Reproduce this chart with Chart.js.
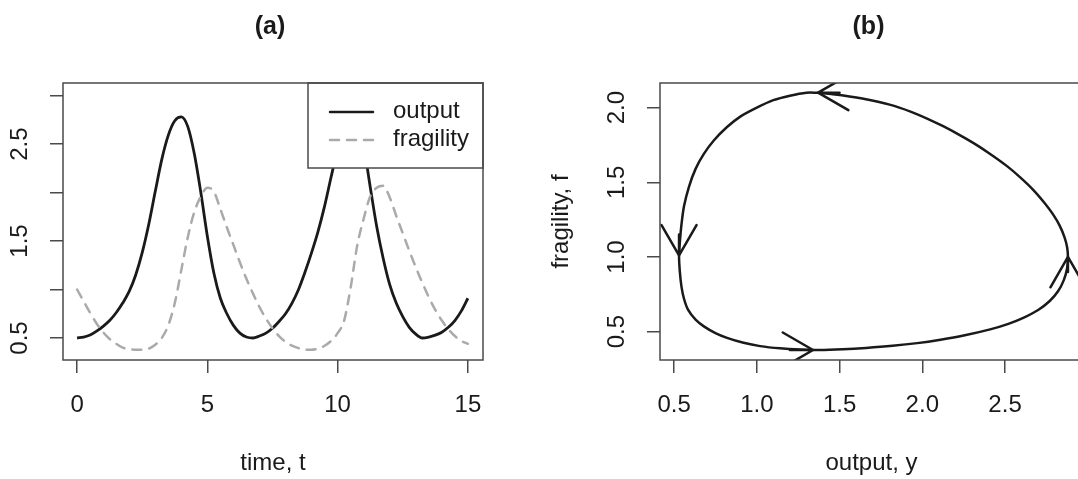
<!DOCTYPE html>
<html>
<head>
<meta charset="utf-8">
<script src="https://cdn.jsdelivr.net/npm/chart.js@4.4.1/dist/chart.umd.min.js"></script>
<style>
  html, body { margin: 0; padding: 0; background: #fff; overflow: hidden; width: 1078px; height: 479px; }
  #wrapA { position: absolute; left: 0; top: 0; width: 540px; height: 479px; }
  #wrapB { position: absolute; left: 540px; top: 0; width: 560px; height: 479px; }
</style>
</head>
<body>
<div id="wrapA"><canvas id="chartA" width="540" height="479"></canvas></div>
<div id="wrapB"><canvas id="chartB" width="560" height="479"></canvas></div>
<script>
// panel (a): output and fragility over time
const timeT = [0, 0.25, 0.5, 0.75, 1, 1.25, 1.5, 1.75, 2, 2.25, 2.5, 2.75, 3, 3.25, 3.5, 3.75,
  4, 4.25, 4.5, 4.75, 5, 5.25, 5.5, 5.75, 6, 6.25, 6.5, 6.75, 7, 7.25, 7.5, 7.75,
  8, 8.25, 8.5, 8.75, 9, 9.25, 9.5, 9.75, 10, 10.25, 10.5, 10.75, 11, 11.25, 11.5, 11.75,
  12, 12.25, 12.5, 12.75, 13, 13.25, 13.5, 13.75, 14, 14.25, 14.5, 14.75, 15];
const outputY = [0.50, 0.51, 0.53, 0.57, 0.62, 0.68, 0.76, 0.86, 0.98, 1.15, 1.38, 1.67, 2.01, 2.34, 2.59, 2.74,
  2.78, 2.68, 2.40, 2.00, 1.55, 1.17, 0.91, 0.75, 0.63, 0.55, 0.51, 0.50, 0.52, 0.55, 0.60, 0.67,
  0.75, 0.86, 1.00, 1.18, 1.38, 1.60, 1.86, 2.16, 2.45, 2.68, 2.78, 2.72, 2.48, 2.06, 1.65, 1.32,
  1.05, 0.86, 0.72, 0.61, 0.54, 0.50, 0.51, 0.53, 0.56, 0.61, 0.68, 0.78, 0.91];
const fragilityF = [1.00, 0.88, 0.76, 0.65, 0.56, 0.49, 0.44, 0.40, 0.385, 0.378, 0.38, 0.39, 0.43, 0.50, 0.63, 0.86,
  1.20, 1.54, 1.80, 1.96, 2.05, 2.01, 1.83, 1.64, 1.46, 1.28, 1.11, 0.96, 0.82, 0.70, 0.60, 0.52,
  0.46, 0.42, 0.395, 0.38, 0.378, 0.39, 0.42, 0.47, 0.55, 0.68, 1.02, 1.45, 1.73, 1.96, 2.05, 2.07,
  1.95, 1.76, 1.58, 1.40, 1.23, 1.07, 0.92, 0.79, 0.68, 0.59, 0.52, 0.47, 0.44];
const xTicksA = [0, 5, 10, 15];
const xLabelsA = ['0', '5', '10', '15'];
const yTicksA = [0.5, 1, 1.5, 2, 2.5, 3];
const yLabelsA = ['0.5', '', '1.5', '', '2.5', ''];

// panel (b): fragility against output, one loop (anticlockwise from the top)
const loopY = [1.37, 1.30, 1.20, 1.10, 1.00, 0.90, 0.82, 0.74, 0.68, 0.63, 0.59, 0.56, 0.545, 0.535, 0.53,
  0.535, 0.545, 0.56, 0.585, 0.63, 0.68, 0.75, 0.82, 0.92, 1.02, 1.14, 1.26, 1.38,
  1.52, 1.66, 1.82, 1.97, 2.11, 2.25, 2.41, 2.52, 2.61, 2.70, 2.77, 2.82, 2.855, 2.875, 2.88,
  2.875, 2.86, 2.83, 2.79, 2.74, 2.67, 2.59, 2.51, 2.41, 2.31, 2.21, 2.11, 1.97, 1.83, 1.69, 1.56, 1.46, 1.37];
const loopF = [2.10, 2.10, 2.08, 2.05, 2.00, 1.94, 1.87, 1.78, 1.69, 1.59, 1.47, 1.34, 1.22, 1.10, 1.01,
  0.90, 0.80, 0.72, 0.645, 0.58, 0.535, 0.49, 0.458, 0.425, 0.403, 0.388, 0.38, 0.377,
  0.382, 0.391, 0.405, 0.423, 0.446, 0.474, 0.515, 0.552, 0.592, 0.645, 0.705, 0.77, 0.845, 0.925, 1.00,
  1.065, 1.13, 1.21, 1.285, 1.36, 1.45, 1.535, 1.61, 1.69, 1.762, 1.826, 1.884, 1.955, 2.012, 2.05, 2.075, 2.09, 2.10];
const arrowFromY = [1.50, 0.53, 1.20, 2.88];
const arrowFromF = [2.10, 1.15, 0.377, 0.90];
const arrowToY = [1.37, 0.53, 1.34, 2.88];
const arrowToF = [2.10, 1.01, 0.377, 1.00];
const xTicksB = [0.5, 1, 1.5, 2, 2.5];
const xLabelsB = ['0.5', '1.0', '1.5', '2.0', '2.5'];
const yTicksB = [0.5, 1, 1.5, 2];
const yLabelsB = ['0.5', '1.0', '1.5', '2.0'];

const FONT = '"Liberation Sans", Arial, Helvetica, sans-serif';
const INK = '#1a1a1a';
const FRAME = '#4a4a4a';
const GREY = '#aaaaaa';

function axis(min, max, ticks, fit) {
  return {
    type: 'linear', min: min, max: max,
    afterBuildTicks: s => { s.ticks = ticks.map(v => ({ value: v })); },
    afterFit: fit,
    ticks: { display: false },
    grid: { drawOnChartArea: false, drawTicks: true, tickLength: 13, color: FRAME, lineWidth: 1.5 },
    border: { display: false }
  };
}

function arrow(ctx, x0, y0, x1, y1, head) {
  const ang = Math.atan2(y1 - y0, x1 - x0);
  ctx.beginPath();
  ctx.moveTo(x0, y0);
  ctx.lineTo(x1, y1);
  [-1, 1].forEach(s => {
    ctx.moveTo(x1, y1);
    ctx.lineTo(x1 - head * Math.cos(ang + s * Math.PI / 6), y1 - head * Math.sin(ang + s * Math.PI / 6));
  });
  ctx.stroke();
}

// draws the R style frame, labels, legend and arrows
const rFrame = {
  id: 'rFrame',
  afterDatasetsDraw(chart, args, o) {
    const ctx = chart.ctx, a = chart.chartArea;
    const sx = chart.scales.x, sy = chart.scales.y;
    ctx.save();

    if (o.arrows) {
      ctx.save();
      ctx.beginPath();
      ctx.rect(a.left, a.top, a.right - a.left, a.bottom - a.top);
      ctx.clip();
      ctx.strokeStyle = INK;
      ctx.lineWidth = 2.5;
      ctx.lineCap = 'round';
      arrowToY.forEach((v, i) => {
        arrow(ctx, sx.getPixelForValue(arrowFromY[i]), sy.getPixelForValue(arrowFromF[i]),
          sx.getPixelForValue(v), sy.getPixelForValue(arrowToF[i]), 35);
      });
      ctx.restore();
    }

    if (o.legend) {
      const lw = 175, lh = 85, lx = a.right - lw, ly = a.top;
      ctx.fillStyle = '#fff';
      ctx.fillRect(lx, ly, lw, lh);
      ctx.strokeStyle = FRAME;
      ctx.lineWidth = 1.5;
      ctx.strokeRect(lx, ly, lw, lh);
      ctx.lineCap = 'round';
      ctx.lineWidth = 2.5;
      ctx.strokeStyle = INK;
      ctx.beginPath(); ctx.moveTo(lx + 22, ly + 29); ctx.lineTo(lx + 65, ly + 29); ctx.stroke();
      ctx.strokeStyle = GREY;
      ctx.setLineDash([9, 8]);
      ctx.beginPath(); ctx.moveTo(lx + 22, ly + 57); ctx.lineTo(lx + 65, ly + 57); ctx.stroke();
      ctx.setLineDash([]);
      ctx.fillStyle = INK;
      ctx.font = '24px ' + FONT;
      ctx.textAlign = 'left';
      ctx.textBaseline = 'middle';
      ctx.fillText('output', lx + 85, ly + 28);
      ctx.fillText('fragility', lx + 85, ly + 56);
    }

    ctx.strokeStyle = FRAME;
    ctx.lineWidth = 1.5;
    ctx.strokeRect(a.left, a.top, a.right - a.left, a.bottom - a.top);

    ctx.fillStyle = INK;
    ctx.font = '24px ' + FONT;
    ctx.textAlign = 'center';
    ctx.textBaseline = 'middle';
    o.xTicks.forEach((v, i) => ctx.fillText(o.xLabels[i], sx.getPixelForValue(v), 405));
    o.yTicks.forEach((v, i) => {
      if (!o.yLabels[i]) return;
      ctx.save();
      ctx.translate(o.yLabelX, sy.getPixelForValue(v));
      ctx.rotate(-Math.PI / 2);
      ctx.fillText(o.yLabels[i], 0, 0);
      ctx.restore();
    });
    const cx = (a.left + a.right) / 2;
    ctx.fillText(o.xTitle, cx, 463);
    if (o.yTitle) {
      ctx.save();
      ctx.translate(o.yTitleX, (a.top + a.bottom) / 2);
      ctx.rotate(-Math.PI / 2);
      ctx.fillText(o.yTitle, 0, 0);
      ctx.restore();
    }
    ctx.font = 'bold 25px ' + FONT;
    ctx.fillText(o.title, cx - 3, 27);
    ctx.restore();
  }
};

const chartA = new Chart(document.getElementById('chartA'), {
  type: 'scatter',
  data: {
    datasets: [
      {
        data: timeT.map((t, i) => ({ x: t, y: fragilityF[i] })),
        showLine: true, borderColor: GREY, borderWidth: 2.5, borderDash: [9, 8], borderCapStyle: 'round',
        pointRadius: 0, cubicInterpolationMode: 'monotone'
      },
      {
        data: timeT.map((t, i) => ({ x: t, y: outputY[i] })),
        showLine: true, borderColor: INK, borderWidth: 2.8,
        pointRadius: 0, cubicInterpolationMode: 'monotone'
      }
    ]
  },
  options: {
    responsive: false, animation: false, devicePixelRatio: 1,
    layout: { padding: { left: 0, right: 57, top: 83, bottom: 0 } },
    scales: {
      x: axis(-0.54, 15.58, xTicksA, s => { s.height = 119; }),
      y: axis(0.273, 3.13, yTicksA, s => { s.width = 63; })
    },
    plugins: {
      legend: { display: false }, tooltip: { enabled: false },
      rFrame: {
        title: '(a)', xTitle: 'time, t', yTitle: '', yLabelX: 20,
        xTicks: xTicksA, xLabels: xLabelsA, yTicks: yTicksA, yLabels: yLabelsA, legend: true
      }
    }
  },
  plugins: [rFrame]
});

const chartB = new Chart(document.getElementById('chartB'), {
  type: 'scatter',
  data: {
    datasets: [{
      data: loopY.map((y, i) => ({ x: y, y: loopF[i] })),
      showLine: true, borderColor: INK, borderWidth: 2.5, pointRadius: 0, tension: 0.3
    }]
  },
  options: {
    responsive: false, animation: false, devicePixelRatio: 1,
    layout: { padding: { left: 0, right: 17, top: 83, bottom: 0 } },
    scales: {
      x: axis(0.415, 2.971, xTicksB, s => { s.height = 119; }),
      y: axis(0.31, 2.165, yTicksB, s => { s.width = 120; })
    },
    plugins: {
      legend: { display: false }, tooltip: { enabled: false },
      rFrame: {
        title: '(b)', xTitle: 'output, y', yTitle: 'fragility, f', yLabelX: 77, yTitleX: 21,
        xTicks: xTicksB, xLabels: xLabelsB, yTicks: yTicksB, yLabels: yLabelsB, arrows: true
      }
    }
  },
  plugins: [rFrame]
});
</script>
</body>
</html>
